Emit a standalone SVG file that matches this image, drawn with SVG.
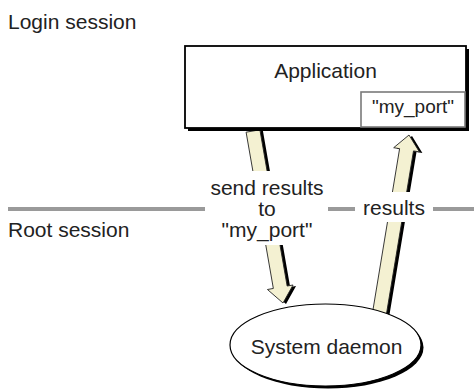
<svg xmlns="http://www.w3.org/2000/svg" width="474" height="390" viewBox="0 0 474 390">
<style>
text{font-family:"Liberation Sans",Arial,Helvetica,sans-serif;font-size:21px;fill:#222}
.c{text-anchor:middle}
.shadow{fill:#000}
.arrow{fill:#f4f1d2;stroke:#222;stroke-width:0.9;stroke-linejoin:miter}
.sep{stroke:#9a9a9a;stroke-width:4}
.bg{fill:#fff}
</style>
<rect width="474" height="390" fill="#fff"/>
<g id="separator">
<line class="sep" x1="8" y1="209" x2="474" y2="209"/>
</g>
<g id="login-label"><text x="8" y="29">Login session</text></g>
<g id="root-label"><text x="8" y="237">Root session</text></g>
<g id="connectors">
<g id="send-arrow">
<polygon class="shadow" transform="translate(3,1)" points="246.1,132.2 259.9,129.8 287.15,286.04 293.05,285 283,303 267.45,289.5 273.35,288.44"/>
<polygon class="arrow" points="246.1,132.2 259.9,129.8 287.15,286.04 293.05,285 283,303 267.45,289.5 273.35,288.44"/>
</g>
<g id="results-arrow">
<polygon class="shadow" transform="translate(3,1)" points="372.3,313.9 386.1,316.1 413.5,150.9 419.4,151.9 409,135 393.7,147.7 399.6,148.7"/>
<polygon class="arrow" points="372.3,313.9 386.1,316.1 413.5,150.9 419.4,151.9 409,135 393.7,147.7 399.6,148.7"/>
</g>
<g id="send-label">
<rect class="bg" x="205" y="171" width="123" height="74"/>
<text class="c" x="267" y="195">send results</text>
<text class="c" x="267" y="216">to</text>
<text class="c" x="267" y="237">"my_port"</text>
</g>
<g id="results-label">
<rect class="bg" x="355" y="192" width="78" height="30"/>
<text class="c" x="394" y="215">results</text>
</g>
</g>
<g id="application">
<rect class="shadow" x="188" y="49" width="281" height="82"/>
<rect x="185" y="46" width="281" height="82" fill="#fff" stroke="#000" stroke-width="1.8"/>
<text class="c" x="325.5" y="78">Application</text>
<g id="my_port">
<rect x="361" y="92" width="104" height="35" fill="#fff" stroke="#7a7a7a" stroke-width="1.6"/>
<text class="c" x="413" y="113" style="font-size:19px">"my_port"</text>
</g>
</g>
<g id="system-daemon">
<ellipse class="shadow" cx="328" cy="347.5" rx="95.5" ry="41"/>
<ellipse cx="325.5" cy="345" rx="95.5" ry="41" fill="#fff" stroke="#000" stroke-width="1.2"/>
<text class="c" x="326.5" y="354">System daemon</text>
</g>
</svg>
